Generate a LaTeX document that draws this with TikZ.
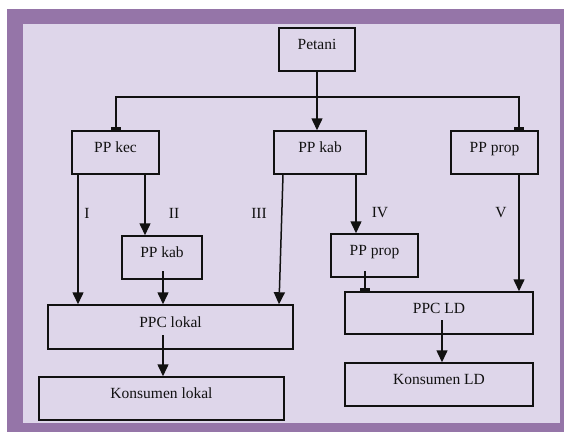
\documentclass[tikz,border=0pt]{standalone}
\usepackage{fontspec}
\setmainfont{Liberation Serif}
\usetikzlibrary{arrows.meta}
\definecolor{frame}{HTML}{9575A8}
\definecolor{bg}{HTML}{DED6EA}
\definecolor{ink}{HTML}{111111}
\tikzset{
  box/.style={draw=ink, line width=1.5pt, inner sep=0pt, minimum height=43pt, text height=9pt, text depth=9pt, font=\fontsize{15.5}{17}\selectfont, text=ink},
  lab/.style={font=\fontsize{15.5}{17}\selectfont, text=ink, inner sep=0pt},
  conn/.style={draw=ink, line width=1.5pt},
  arr/.style={conn, -{Triangle[width=11pt,length=12pt]}},
  bararr/.style={conn, -{Rectangle[width=10pt,length=3pt]}}
}
\begin{document}
\begin{tikzpicture}[x=1pt,y=-1pt]
\useasboundingbox (0,0) rectangle (564,432);
\fill[white] (0,0) rectangle (564,432);
\fill[frame] (7,9) rectangle (564,432);
\fill[bg] (23,24) rectangle (560,423);

\node[box, minimum width=76pt] (petani) at (317,49.5) {Petani};
\node[box, minimum width=87pt] (kec) at (115.5,152.5) {PP kec};
\node[box, minimum width=92pt] (kabA) at (320,152.5) {PP kab};
\node[box, minimum width=87pt] (propA) at (494.5,152.5) {PP prop};
\node[box, minimum width=80pt] (kabB) at (162,257.5) {PP kab};
\node[box, minimum width=245pt, minimum height=44pt] (lokal) at (170.5,327) {PPC lokal};
\node[box, minimum width=245pt] (konlokal) at (161.5,398.5) {Konsumen lokal};
\node[box, minimum width=87pt] (propB) at (374.5,255.5) {PP prop};
\node[box, minimum width=188pt, minimum height=42pt] (ld) at (439,313) {PPC LD};
\node[box, minimum width=188pt] (konld) at (439,384.5) {Konsumen LD};

\node[lab] (l1) at (87,213) {I};
\node[lab] (l2) at (174,213) {II};
\node[lab] (l3) at (259,213) {III};
\node[lab] (l4) at (380,213) {IV};
\node[lab] (l5) at (501,213) {V};

\coordinate (hl) at (116,97);
\coordinate (hr) at (519,97);
\coordinate (jn) at (317,97);

% Petani to level 1
\draw[arr] (petani.south) -- (petani.south |- kabA.north);
\draw[bararr] (jn) -- (hl) -- (hl |- kec.north);
\draw[bararr] (jn) -- (hr) -- (hr |- propA.north);

% routes
\draw[arr] (kec.south -| 78,0) -- (lokal.north -| 78,0);
\draw[arr] (kec.south -| 145,0) -- (kabB.north -| 145,0);
\draw[arr] (163,271) -- (lokal.north -| 163,0);
\draw[arr] (kabA.south -| 283,0) -- (lokal.north -| 279,0);
\draw[arr] (163,335) -- (konlokal.north -| 163,0);

\draw[arr] (kabA.south -| 356,0) -- (propB.north -| 356,0);
\draw[bararr] (365,271) -- (ld.north -| 365,0);
\draw[arr] (propA.south -| 519,0) -- (ld.north -| 519,0);
\draw[arr] (442,320) -- (konld.north -| 442,0);
\end{tikzpicture}
\end{document}
